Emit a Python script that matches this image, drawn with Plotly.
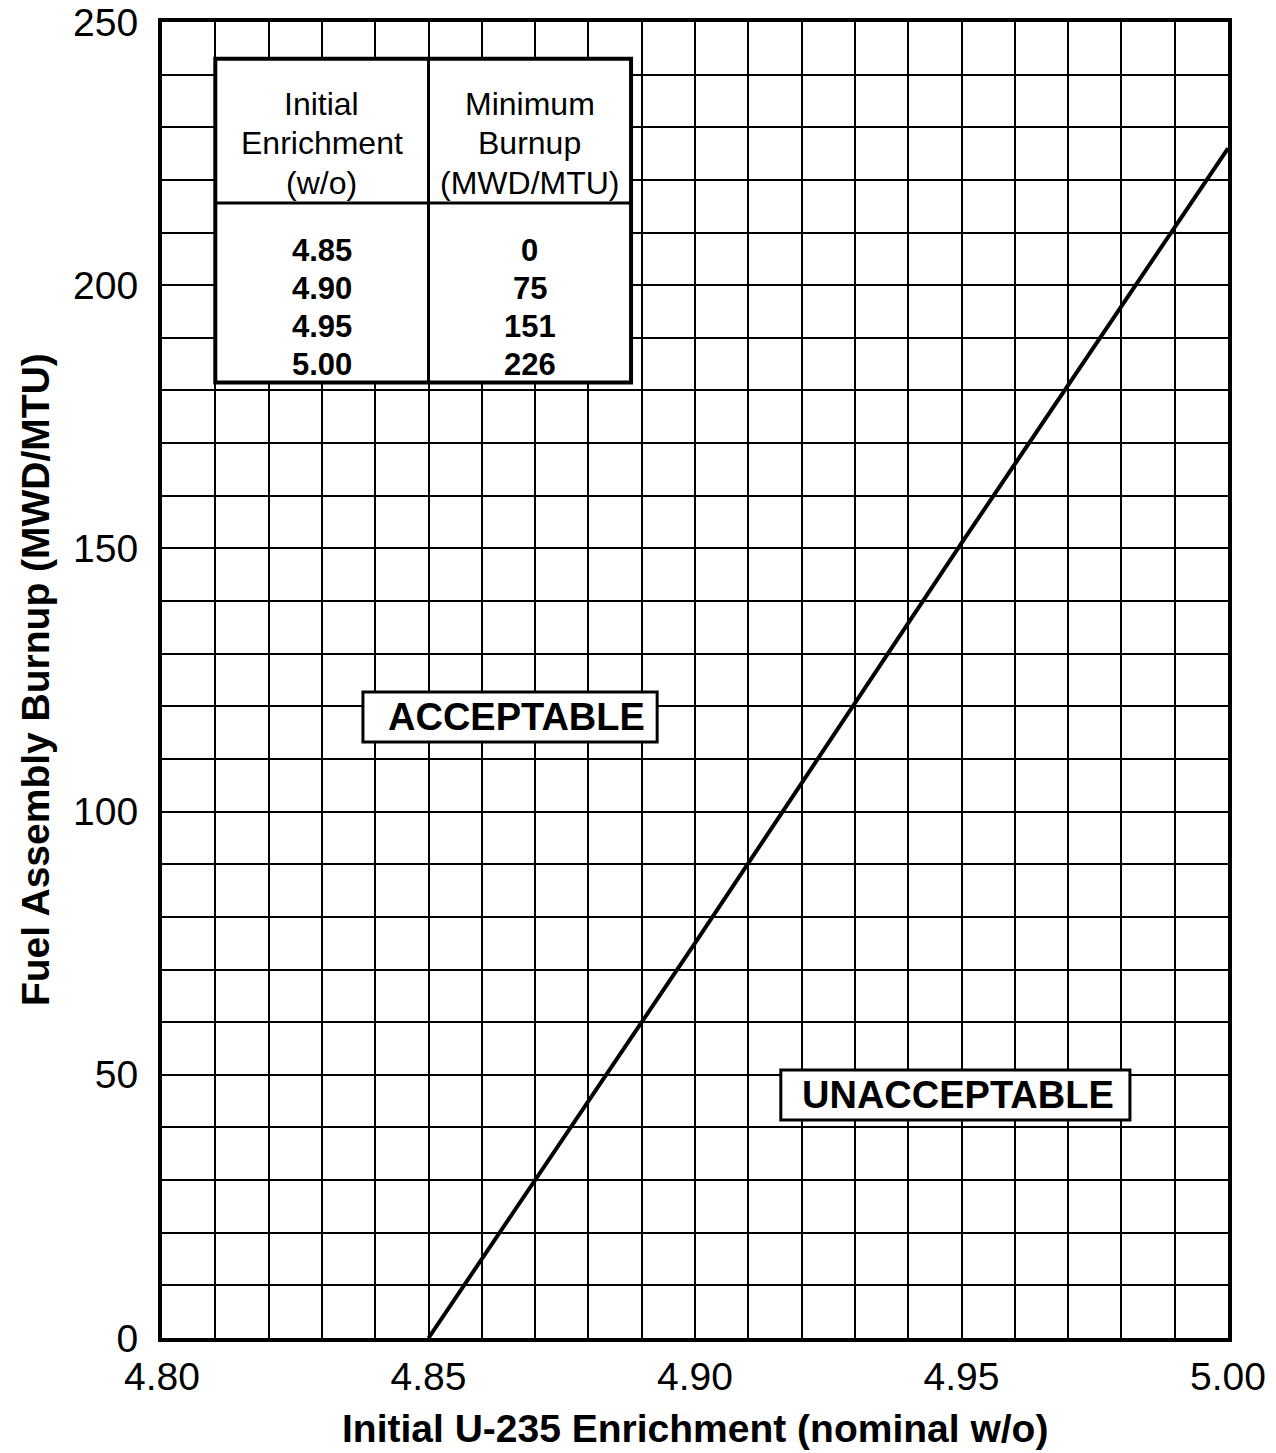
import plotly.graph_objects as go

# ---- data ----
enrichment = [4.85, 4.90, 4.95, 5.00]
min_burnup = [0, 75, 151, 226]
table_enrichment_labels = ["4.85", "4.90", "4.95", "5.00"]
table_burnup_labels = ["0", "75", "151", "226"]
header_left = ["Initial", "Enrichment", "(w/o)"]
header_right = ["Minimum", "Burnup", "(MWD/MTU)"]
x_ticks = [4.80, 4.85, 4.90, 4.95, 5.00]
x_tick_text = ["4.80", "4.85", "4.90", "4.95", "5.00"]
y_ticks = [0, 50, 100, 150, 200, 250]
y_tick_text = ["0", "50", "100", "150", "200", "250"]

FONT = "Liberation Sans, Arial, Helvetica, sans-serif"

fig = go.Figure()
fig.add_trace(go.Scatter(
    x=enrichment, y=min_burnup, mode="lines",
    line=dict(color="black", width=4), showlegend=False, hoverinfo="skip"))

fig.update_xaxes(
    range=[4.80, 5.00], tickvals=x_ticks, ticktext=x_tick_text,
    showgrid=True, gridcolor="black", gridwidth=2,
    minor=dict(dtick=0.01, tick0=4.80, showgrid=True, gridcolor="black", gridwidth=2),
    showline=True, linecolor="black", linewidth=4, mirror=True,
    ticks="outside", ticklen=0, ticklabelstandoff=1, automargin=False,
    tickfont=dict(family=FONT, size=39, color="black"), zeroline=False)
fig.update_yaxes(
    range=[0, 250], tickvals=y_ticks, ticktext=y_tick_text,
    showgrid=True, gridcolor="black", gridwidth=2,
    minor=dict(dtick=10, tick0=0, showgrid=True, gridcolor="black", gridwidth=2),
    showline=True, linecolor="black", linewidth=4, mirror=True,
    ticks="outside", ticklen=0, ticklabelstandoff=12, automargin=False,
    tickfont=dict(family=FONT, size=39, color="black"), zeroline=False)

shapes = []
# inset table
tx0, tx1, tdiv = 4.81, 4.888, 4.85
ty0, ty1, thead = 181.5, 243.0, 215.6
shapes.append(dict(type="rect", xref="x", yref="y", x0=tx0, x1=tx1, y0=ty0, y1=ty1,
                   fillcolor="white", line=dict(color="black", width=4), layer="above"))
shapes.append(dict(type="line", xref="x", yref="y", x0=tdiv, x1=tdiv, y0=ty0, y1=ty1,
                   line=dict(color="black", width=3), layer="above"))
shapes.append(dict(type="line", xref="x", yref="y", x0=tx0, x1=tx1, y0=thead, y1=thead,
                   line=dict(color="black", width=3), layer="above"))
# label boxes
shapes.append(dict(type="rect", xref="x", yref="y", x0=4.8377, x1=4.8929, y0=113.2, y1=122.7,
                   fillcolor="white", line=dict(color="black", width=3), layer="above"))
shapes.append(dict(type="rect", xref="x", yref="y", x0=4.9161, x1=4.9816, y0=41.4, y1=50.9,
                   fillcolor="white", line=dict(color="black", width=3), layer="above"))

annotations = []
cl, cr = (tx0 + tdiv) / 2, (tdiv + tx1) / 2
head_y = [234.4, 227.0, 219.4]
for i in range(3):
    annotations.append(dict(x=cl, y=head_y[i], xref="x", yref="y", text=header_left[i],
                            showarrow=False, font=dict(family=FONT, size=32, color="black")))
    annotations.append(dict(x=cr, y=head_y[i], xref="x", yref="y", text=header_right[i],
                            showarrow=False, font=dict(family=FONT, size=32, color="black")))
val_y = [206.5, 199.3, 192.1, 185.0]
for i in range(4):
    annotations.append(dict(x=cl, y=val_y[i], xref="x", yref="y",
                            text="<b>%s</b>" % table_enrichment_labels[i],
                            showarrow=False, font=dict(family=FONT, size=31, color="black")))
    annotations.append(dict(x=cr, y=val_y[i], xref="x", yref="y",
                            text="<b>%s</b>" % table_burnup_labels[i],
                            showarrow=False, font=dict(family=FONT, size=31, color="black")))
annotations.append(dict(x=4.8666, y=118.0, xref="x", yref="y", text="<b>ACCEPTABLE</b>",
                        showarrow=False, font=dict(family=FONT, size=38, color="black")))
annotations.append(dict(x=4.9494, y=46.2, xref="x", yref="y", text="<b>UNACCEPTABLE</b>",
                        showarrow=False, font=dict(family=FONT, size=38, color="black")))
# axis titles
annotations.append(dict(x=0.5, y=-0.0684, xref="paper", yref="paper",
                        text="<b>Initial U-235 Enrichment (nominal w/o)</b>",
                        showarrow=False, xanchor="center", yanchor="middle",
                        font=dict(family=FONT, size=39, color="black")))
annotations.append(dict(x=-0.1191, y=0.5, xref="paper", yref="paper",
                        text="<b>Fuel Assembly Burnup (MWD/MTU)</b>", textangle=-90,
                        showarrow=False, xanchor="center", yanchor="middle",
                        font=dict(family=FONT, size=39, color="black")))

fig.update_layout(
    width=1276, height=1453,
    margin=dict(l=162, r=48, t=22, b=115, autoexpand=False),
    paper_bgcolor="white", plot_bgcolor="white",
    shapes=shapes, annotations=annotations, showlegend=False)

fig.write_html("out.html")
